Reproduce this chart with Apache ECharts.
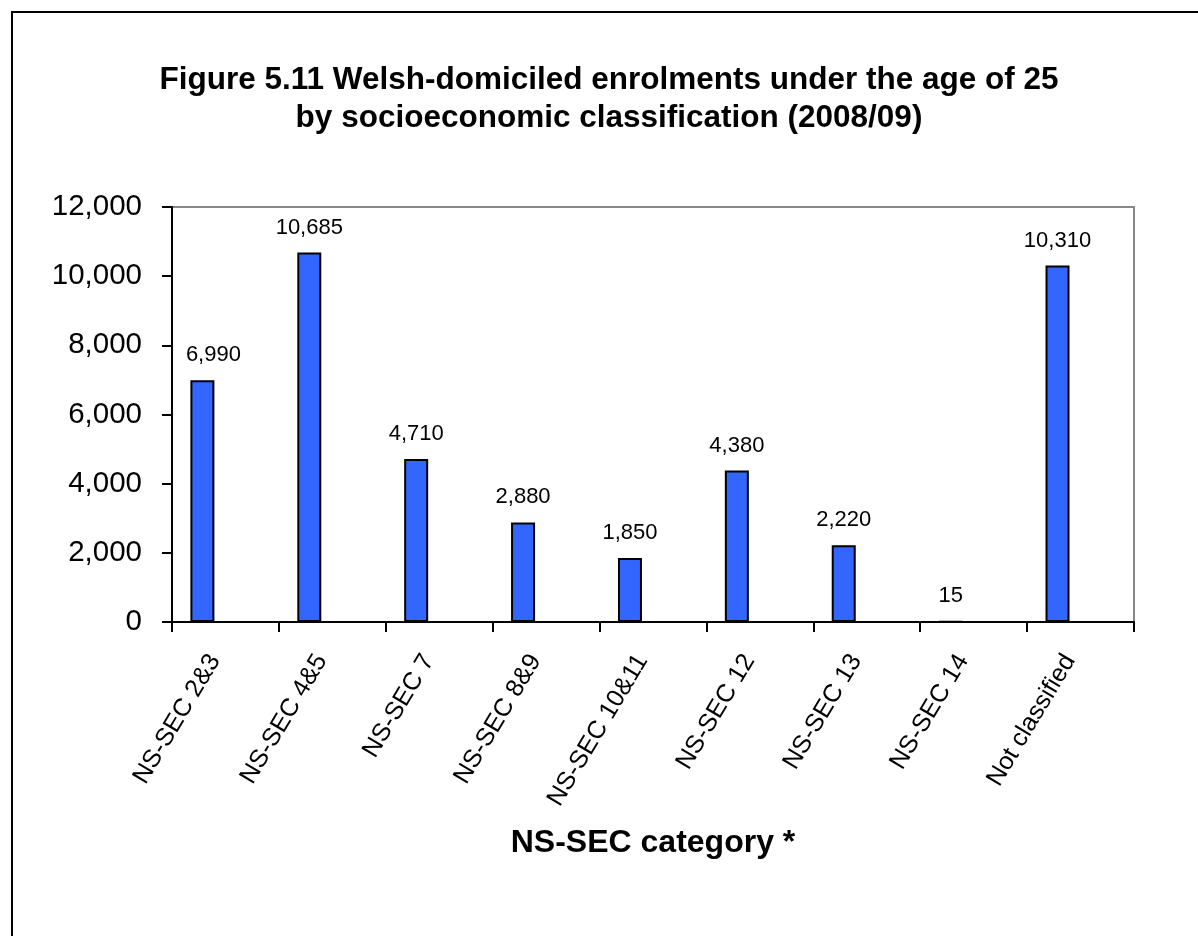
<!DOCTYPE html>
<html>
<head>
<meta charset="utf-8">
<title>Welsh-domiciled enrolments under 25 by NS-SEC</title>
<script src="https://cdn.jsdelivr.net/npm/echarts@6/dist/echarts.min.js"></script>
<style>
  html, body { margin: 0; padding: 0; background: #fff; }
  #chart { width: 1198px; height: 936px; }
</style>
</head>
<body>
<div id="chart"></div>
<script>
// Enrolments by NS-SEC category, 2008/09
const categories = ['NS-SEC 2&3', 'NS-SEC 4&5', 'NS-SEC 7', 'NS-SEC 8&9', 'NS-SEC 10&11',
                    'NS-SEC 12', 'NS-SEC 13', 'NS-SEC 14', 'Not classified'];
const enrolments = [6990, 10685, 4710, 2880, 1850, 4380, 2220, 15, 10310];
// Empty companion series keeps the bars in the left slot of each category
const companion = categories.map(() => null);
const yTicks = { min: 0, max: 12000, interval: 2000 };

const titleLines = ['Figure 5.11 Welsh-domiciled enrolments under the age of 25',
                    'by socioeconomic classification (2008/09)'];
const xAxisTitle = 'NS-SEC category *';

const FONT = '"Liberation Sans", Arial, Helvetica, sans-serif';
const fmt = v => String(v).replace(/\B(?=(\d{3})+(?!\d))/g, ',');

// The first value label is nudged right, clear of the value axis
const barData = enrolments.map((v, i) =>
  i === 0 ? { value: v, label: { offset: [11, 0] } } : v);

const chart = echarts.init(document.getElementById('chart'));
chart.setOption({
  animation: false,
  backgroundColor: '#ffffff',
  textStyle: { fontFamily: FONT },
  graphic: [
    {
      type: 'rect',
      shape: { x: 12, y: 12, width: 1300, height: 1000 },
      style: { fill: 'none', stroke: '#000', lineWidth: 2 },
      silent: true
    },
    {
      type: 'text',
      x: 609, y: 80,
      style: {
        text: titleLines[0], align: 'center', verticalAlign: 'middle',
        font: 'bold 31.5px ' + FONT, fill: '#000'
      }
    },
    {
      type: 'text',
      x: 609, y: 118,
      style: {
        text: titleLines[1], align: 'center', verticalAlign: 'middle',
        font: 'bold 31.5px ' + FONT, fill: '#000'
      }
    }
  ],
  grid: {
    left: 172, top: 207, right: 64, bottom: 314,
    show: true, borderColor: '#888', borderWidth: 2, backgroundColor: '#fff'
  },
  xAxis: {
    type: 'category',
    data: categories,
    boundaryGap: true,
    name: xAxisTitle,
    nameLocation: 'middle',
    nameGap: 205,
    nameMoveOverlap: false,
    nameTextStyle: { fontFamily: FONT, fontSize: 32, fontWeight: 'bold', color: '#000' },
    axisLine: { show: true, lineStyle: { color: '#000', width: 2 } },
    axisTick: { show: true, alignWithLabel: false, length: 10, inside: false,
                lineStyle: { color: '#000', width: 2 } },
    axisLabel: {
      rotate: 59, interval: 0, margin: 41, fontSize: 25, color: '#000', fontFamily: FONT,
      align: 'right', verticalAlign: 'bottom'
    },
    splitLine: { show: false }
  },
  yAxis: {
    type: 'value',
    min: yTicks.min, max: yTicks.max, interval: yTicks.interval,
    axisLine: { show: true, lineStyle: { color: '#000', width: 2 } },
    axisTick: { show: true, length: 10, lineStyle: { color: '#000', width: 2 } },
    axisLabel: { margin: 30, fontSize: 29.5, color: '#000', fontFamily: FONT, formatter: fmt },
    splitLine: { show: false }
  },
  series: [
    {
      name: 'Enrolments',
      type: 'bar',
      data: barData,
      barWidth: 24,
      barGap: '92%',
      itemStyle: { color: '#3366FF', borderColor: '#000', borderWidth: 2 },
      label: {
        show: true, position: 'top', distance: 14,
        fontSize: 22, color: '#000', fontFamily: FONT,
        formatter: p => fmt(p.value)
      }
    },
    {
      name: 'companion',
      type: 'bar',
      data: companion,
      barWidth: 24,
      silent: true
    }
  ]
});
</script>
</body>
</html>
